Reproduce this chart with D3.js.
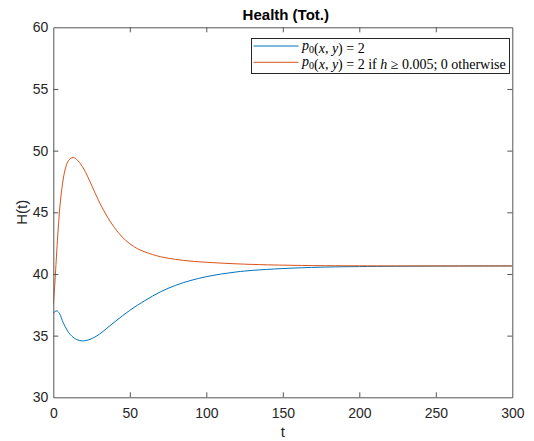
<!DOCTYPE html>
<html>
<head>
<meta charset="utf-8">
<script src="https://cdn.jsdelivr.net/npm/d3@7"></script>
<style>
  body { margin: 0; background: #fff; }
  svg { display: block; font-family: "Liberation Sans", Arial, sans-serif; }
</style>
</head>
<body>
<div id="chart"></div>
<script>
// values
var tBlue = [0, 1, 2.5, 4, 6.5, 9, 11, 15, 19, 24, 30, 35, 41, 50, 60, 70, 80, 90, 100, 110, 120, 130, 150, 175, 200, 250, 300];
var hBlue = [36.8, 36.95, 37.0, 36.8, 36.05, 35.45, 35.1, 34.7, 34.57, 34.7, 35.1, 35.6, 36.2, 37.05, 37.85, 38.55, 39.08, 39.48, 39.78, 40.0, 40.17, 40.29, 40.44, 40.55, 40.6, 40.64, 40.65];

var tOrange = [0, 1, 2, 3, 4, 5, 6.5, 8, 10, 13, 16, 20, 25, 30, 35, 40, 45, 50, 55, 60, 70, 80, 90, 100, 120, 140, 170, 200, 250, 300];
var hOrange = [37.6, 39.2, 41.3, 43.3, 45.0, 46.3, 47.7, 48.6, 49.2, 49.45, 49.2, 48.5, 47.2, 45.85, 44.7, 43.75, 43.0, 42.45, 42.05, 41.78, 41.4, 41.18, 41.04, 40.95, 40.82, 40.74, 40.68, 40.66, 40.65, 40.65];

var xTicks = [0, 50, 100, 150, 200, 250, 300];
var yTicks = [30, 35, 40, 45, 50, 55, 60];

var seriesNames = ["blue", "orange"];
var seriesColors = ["#0072BD", "#D95319"];

var width = 534, height = 441;
var margin = {top: 27.3, right: 21.7, bottom: 43.7, left: 53.3};
var plotW = width - margin.left - margin.right;
var plotH = height - margin.top - margin.bottom;
var axisColor = "#555";

var svg = d3.select("#chart").append("svg")
  .attr("width", width)
  .attr("height", height);

var x = d3.scaleLinear().domain([0, 300]).range([margin.left, margin.left + plotW]);
var y = d3.scaleLinear().domain([30, 60]).range([margin.top + plotH, margin.top]);

svg.append("clipPath").attr("id", "plotClip")
  .append("rect")
  .attr("x", margin.left).attr("y", margin.top)
  .attr("width", plotW).attr("height", plotH);

// lines
var line = d3.line()
  .x(function(d){ return x(d[0]); })
  .y(function(d){ return y(d[1]); })
  .curve(d3.curveCatmullRom.alpha(0.5));

var blueData = tBlue.map(function(t, i){ return [t, hBlue[i]]; });
var orangeData = tOrange.map(function(t, i){ return [t, hOrange[i]]; });
var allData = [blueData, orangeData];

var lines = svg.append("g").attr("clip-path", "url(#plotClip)");
for (var i = 0; i < allData.length; i++) {
  lines.append("path")
    .attr("class", "line-" + seriesNames[i])
    .attr("d", line(allData[i]))
    .attr("fill", "none")
    .attr("stroke", seriesColors[i])
    .attr("stroke-width", 1);
}

// axes, MATLAB style: ticks inside on all four sides
var tickLen = 5;
var xBottom = svg.append("g")
  .attr("transform", "translate(0," + (margin.top + plotH) + ")")
  .call(d3.axisBottom(x).tickValues(xTicks).tickSizeInner(-tickLen).tickSizeOuter(0).tickPadding(11));
var xTop = svg.append("g")
  .attr("transform", "translate(0," + margin.top + ")")
  .call(d3.axisTop(x).tickValues(xTicks).tickSizeInner(-tickLen).tickSizeOuter(0).tickFormat(""));
var yLeft = svg.append("g")
  .attr("transform", "translate(" + margin.left + ",0)")
  .call(d3.axisLeft(y).tickValues(yTicks).tickSizeInner(-tickLen).tickSizeOuter(0).tickPadding(5));
var yRight = svg.append("g")
  .attr("transform", "translate(" + (margin.left + plotW) + ",0)")
  .call(d3.axisRight(y).tickValues(yTicks).tickSizeInner(-tickLen).tickSizeOuter(0).tickFormat(""));

[xBottom, xTop, yLeft, yRight].forEach(function(g){
  g.selectAll(".domain").attr("stroke", axisColor).attr("stroke-width", 1);
  g.selectAll(".tick line").attr("stroke", axisColor).attr("stroke-width", 1);
  g.selectAll(".tick text")
    .attr("fill", "#262626")
    .style("font-family", "'Liberation Sans', Arial, sans-serif")
    .style("font-size", "14px");
});
// hide the inner ticks that sit on the box corners
xBottom.selectAll(".tick line").filter(function(d){ return d == 0 || d == 300; }).remove();
xTop.selectAll(".tick line").filter(function(d){ return d == 0 || d == 300; }).remove();
yLeft.selectAll(".tick line").filter(function(d){ return d == 30 || d == 60; }).remove();
yRight.selectAll(".tick line").filter(function(d){ return d == 30 || d == 60; }).remove();

// title and labels
svg.append("text")
  .attr("x", margin.left + plotW / 2 + 3)
  .attr("y", 20)
  .attr("text-anchor", "middle")
  .style("font-size", "15px")
  .style("font-weight", "bold")
  .attr("fill", "#000")
  .text("Health (Tot.)");

svg.append("text")
  .attr("x", margin.left + plotW / 2)
  .attr("y", 437)
  .attr("text-anchor", "middle")
  .style("font-size", "15px")
  .attr("fill", "#262626")
  .text("t");

svg.append("text")
  .attr("transform", "translate(27," + (margin.top + plotH / 2) + ") rotate(-90)")
  .attr("text-anchor", "middle")
  .style("font-size", "15px")
  .attr("fill", "#262626")
  .text("H(t)");

// legend
var leg = svg.append("g").attr("class", "legend");
leg.append("rect")
  .attr("x", 251.5).attr("y", 38.5)
  .attr("width", 258).attr("height", 35)
  .attr("fill", "#fff")
  .attr("stroke", "#262626")
  .attr("stroke-width", 1);

var legendRows = [
  [["i", "p"], ["sub", "0"], ["n", "("], ["i", "x"], ["n", ", "], ["i", "y"], ["n", ") = 2"]],
  [["i", "p"], ["sub", "0"], ["n", "("], ["i", "x"], ["n", ", "], ["i", "y"], ["n", ") = 2 if "], ["i", "h"], ["n", " \u2265 0.005; 0 otherwise"]]
];
var rowY = [46, 62.3];

for (var r = 0; r < legendRows.length; r++) {
  leg.append("line")
    .attr("x1", 253.5).attr("x2", 298.5)
    .attr("y1", rowY[r]).attr("y2", rowY[r])
    .attr("stroke", seriesColors[r])
    .attr("stroke-width", 1);

  var txt = leg.append("text")
    .attr("x", 302)
    .attr("y", rowY[r] + 4)
    .style("font-family", "'Liberation Serif', 'Times New Roman', serif")
    .style("font-size", "14px")
    .attr("fill", "#000");
  legendRows[r].forEach(function(part){
    var ts = txt.append("tspan").text(part[1]);
    if (part[0] == "i") ts.style("font-style", "italic");
    if (part[0] == "sub") {
      ts.attr("dy", 3).style("font-size", "10px");
      txt.append("tspan").attr("dy", -3).text("");
    }
  });
}
// squeeze the long label into the box if it runs wide
var longest = leg.selectAll("text").nodes()[1];
if (longest.getComputedTextLength() > 205) {
  var fs = 14 * 205 / longest.getComputedTextLength();
  leg.selectAll("text").style("font-size", fs + "px");
}
</script>
</body>
</html>
